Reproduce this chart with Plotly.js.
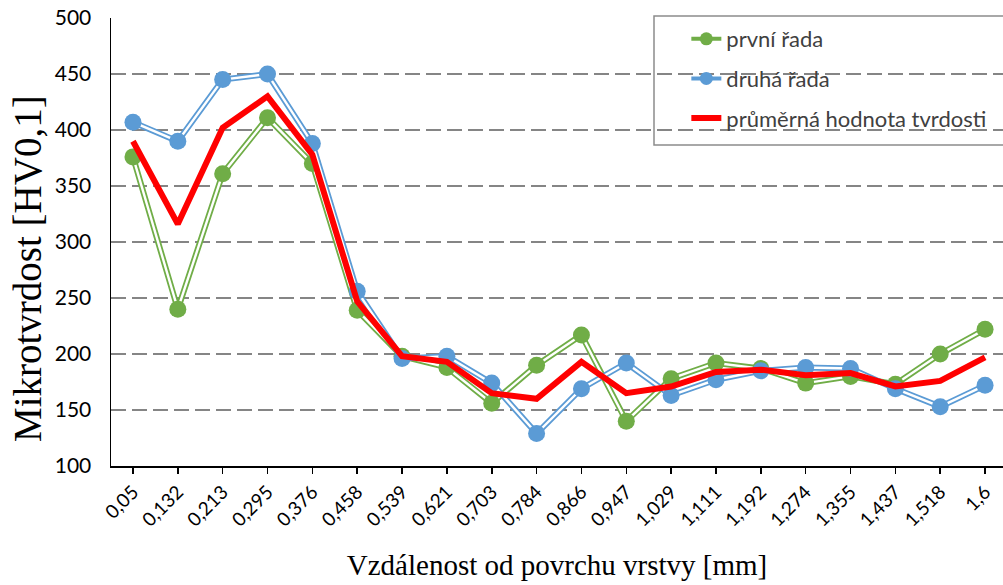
<!DOCTYPE html>
<html>
<head>
<meta charset="utf-8">
<script src="https://cdn.plot.ly/plotly-3.0.1.min.js"></script>
<style>html,body{margin:0;padding:0;background:#fff;}#chart{width:1003px;height:585px;}</style>
</head>
<body>
<div id="chart"></div>
<script>
const categories = ["0,05","0,132","0,213","0,295","0,376","0,458","0,539","0,621","0,703","0,784","0,866","0,947","1,029","1,111","1,192","1,274","1,355","1,437","1,518","1,6"];
const prvniRada = [376,240,361,411,370,239,198,188,156,190,217,140,178,192,187,174,180,173,200,222];
const druhaRada = [407,390,445,450,388,256,196,198,174,129,169,192,163,177,185,188,187,169,153,172];
const prumer =    [390,316,402,430,378,247,198,193,165,160,193,165,171,184,186,181,183,171,176,197];
const yTicks = [100,150,200,250,300,350,400,450,500];

const green = "#70AD47", blue = "#5B9BD5", red = "#FF0000";
const sans = "Lato, Liberation Sans, Arial";
const serif = "Liberation Serif, Times New Roman, serif";

function doubleLine(name, vals, color, grp) {
  return [
    {x: categories, y: vals, type: "scatter", mode: "lines", line: {color: color, width: 6}, showlegend: false, hoverinfo: "skip"},
    {x: categories, y: vals, type: "scatter", mode: "lines", line: {color: "#ffffff", width: 2.4}, showlegend: false, hoverinfo: "skip"},
    {x: categories, y: vals, type: "scatter", mode: "markers", name: name, marker: {color: color, size: 17}, showlegend: false},
    {x: [null], y: [null], type: "scatter", mode: "lines+markers", name: name, legendgroup: grp, line: {color: color, width: 4}, marker: {color: color, size: 13}, showlegend: true}
  ];
}

const data = [
  ...doubleLine("první řada", prvniRada, green, "g1"),
  ...doubleLine("druhá řada", druhaRada, blue, "g2"),
  {x: categories, y: prumer, type: "scatter", mode: "lines", name: "průměrná hodnota tvrdosti", legendgroup: "g3", line: {color: red, width: 6}}
];

const layout = {
  width: 1003, height: 585,
  margin: {l: 111, r: 0, t: 18, b: 119},
  paper_bgcolor: "#ffffff", plot_bgcolor: "#ffffff",
  showlegend: true,
  legend: {
    x: 0.645, y: 1.0, xanchor: "left", yanchor: "top",
    bgcolor: "rgba(0,0,0,0)", borderwidth: 0,
    traceorder: "grouped", tracegroupgap: 8,
    font: {family: sans, size: 22, color: "#404040"}
  },
  shapes: [
    {type: "rect", xref: "paper", yref: "paper", x0: (654-111)/892, x1: 1.01, y0: (466-145)/448, y1: (466-16)/448,
     line: {color: "#8c8c8c", width: 1.5}, fillcolor: "#ffffff", layer: "between"}
  ],
  annotations: [
    {text: "Mikrotvrdost [HV0,1]", xref: "paper", yref: "paper", x: (27-111)/892, y: (466-269)/448,
     xanchor: "center", yanchor: "middle", textangle: -90, showarrow: false,
     font: {family: serif, size: 39, color: "#000"}}
  ],
  xaxis: {
    type: "category",
    tickangle: -45,
    ticks: "outside", ticklen: 6, tickcolor: "#000", tickwidth: 1.5,
    showline: true, linecolor: "#000", linewidth: 1.5,
    showgrid: false, zeroline: false,
    tickfont: {family: sans, size: 19, color: "#000"},
    title: {text: "Vzdálenost od povrchu vrstvy [mm]", font: {family: serif, size: 29, color: "#000"}, standoff: 25},
    range: [-0.49, 19.4]
  },
  yaxis: {
    range: [100, 500],
    tickvals: yTicks,
    ticks: "", showline: true, linecolor: "#000", linewidth: 1.5,
    ticklabelstandoff: 14,
    showgrid: true, gridcolor: "#858585", gridwidth: 2.5, griddash: "15px,6px",
    zeroline: false,
    tickfont: {family: sans, size: 21, color: "#000"}
  }
};

Plotly.newPlot("chart", data, layout, {displayModeBar: false, staticPlot: true});
</script>
</body>
</html>
